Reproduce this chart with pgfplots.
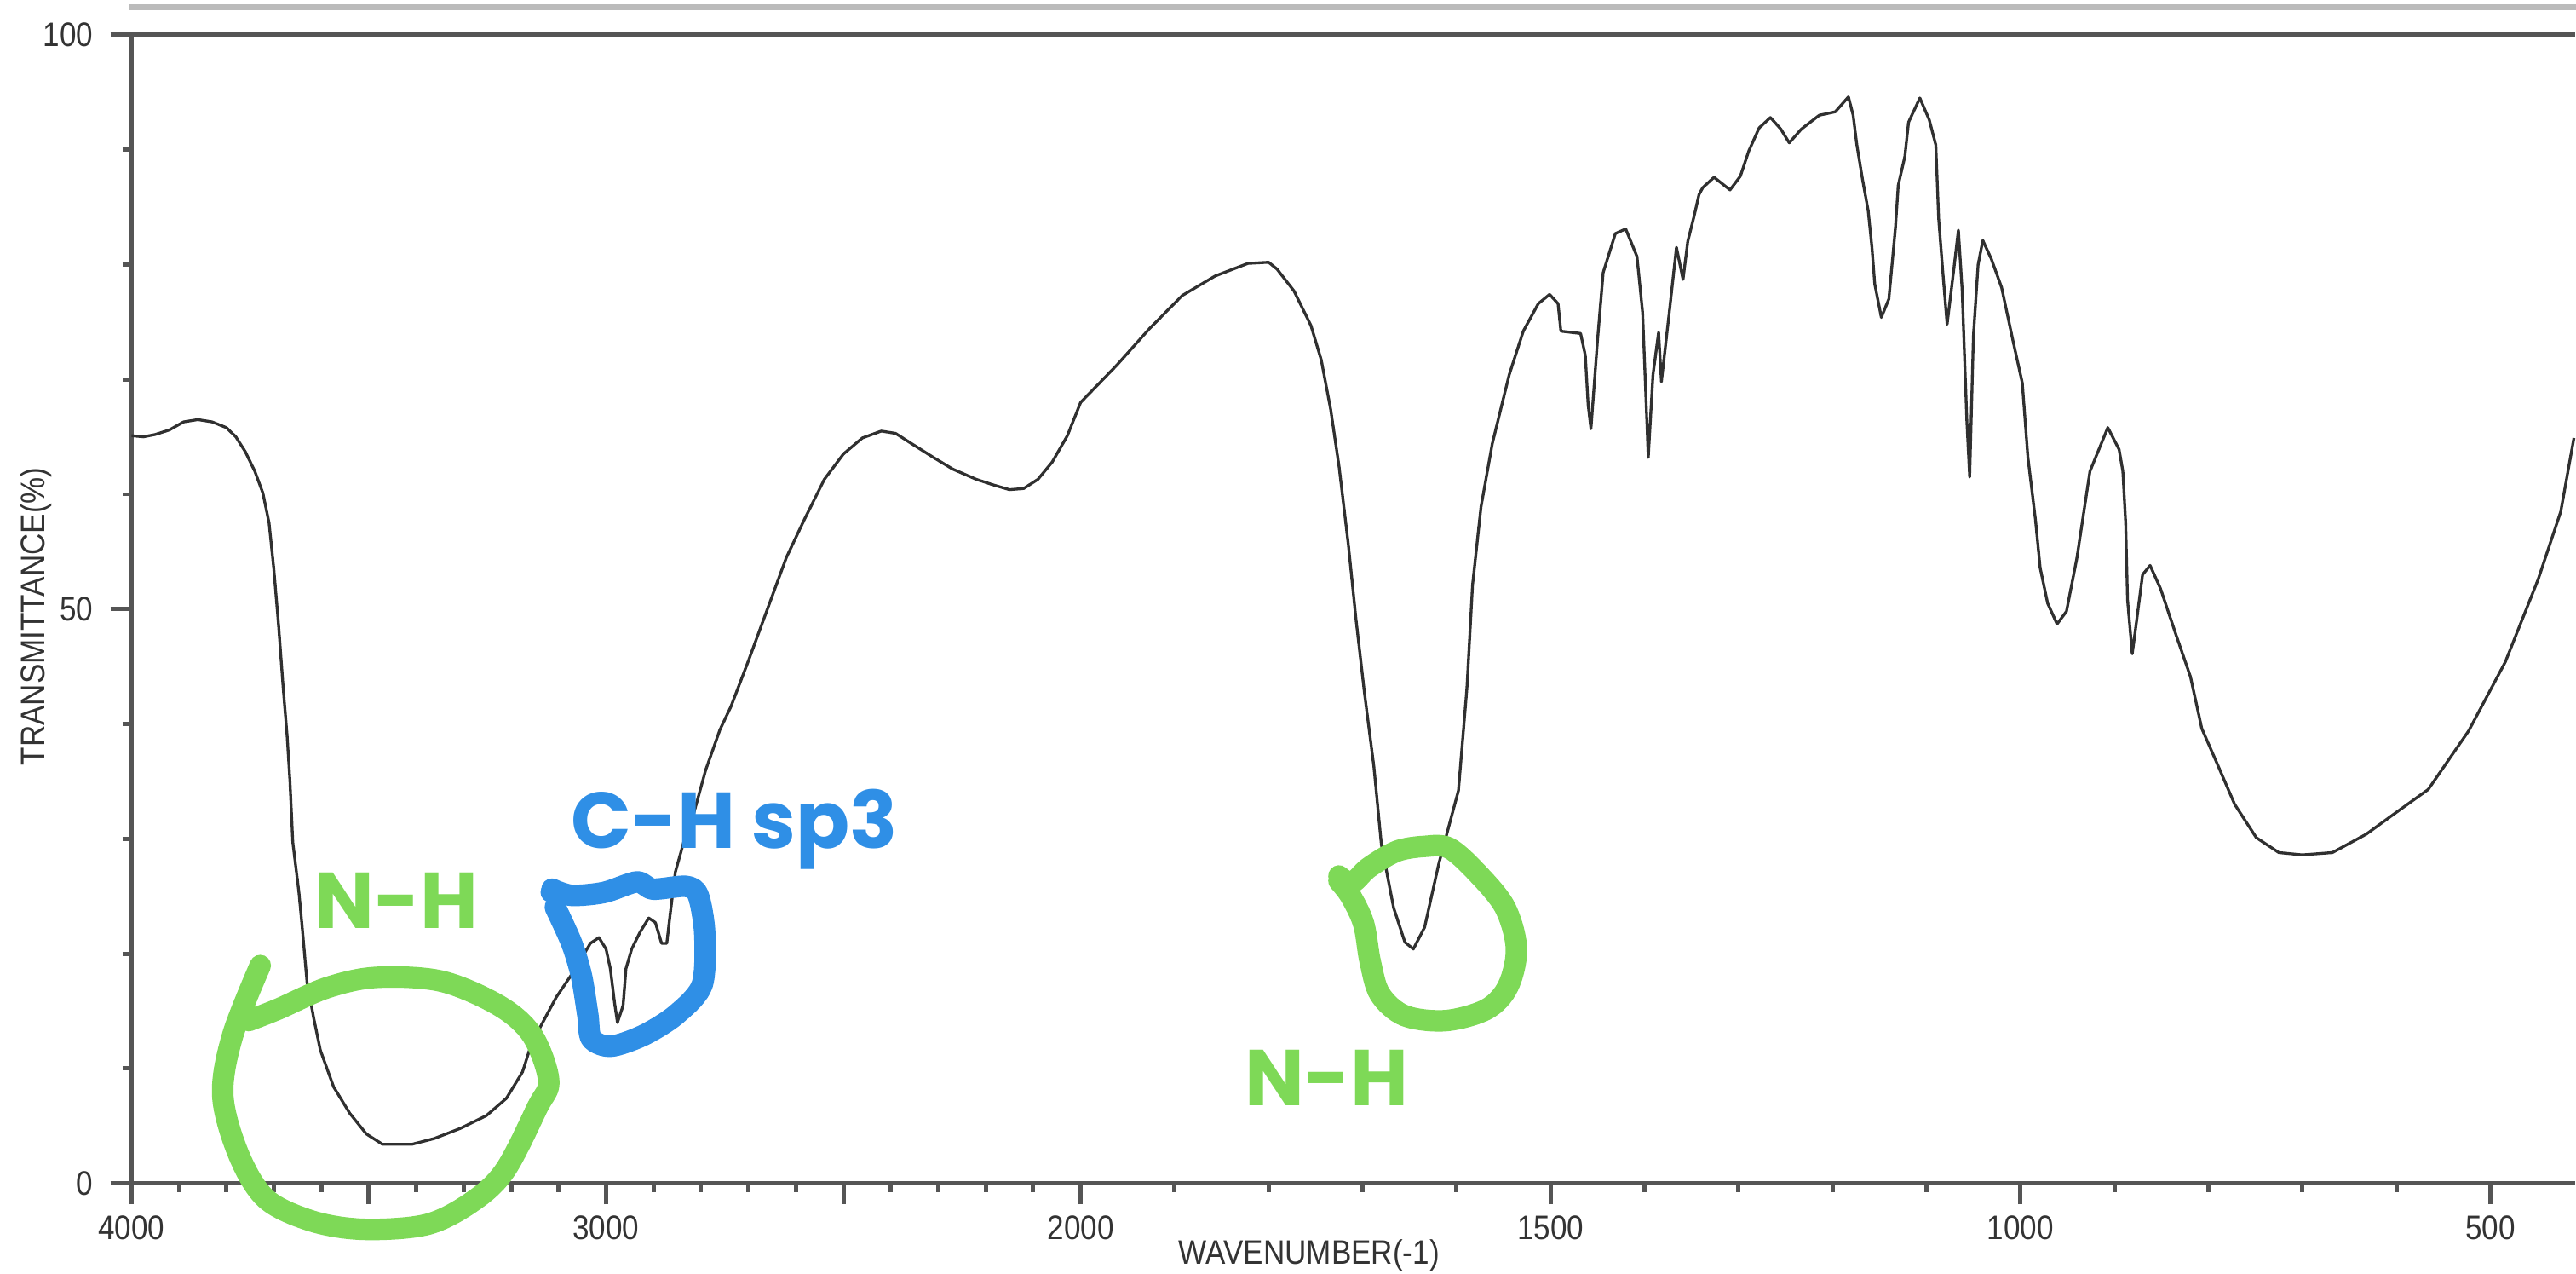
\documentclass[border=0pt]{standalone}
\usepackage{fontspec}
\setmainfont{Liberation Sans}
\newfontfamily\annfont{Poppins}
\usepackage{pgfplots}
\pgfplotsset{compat=1.18}
\usepackage{pgfplotstable}

\definecolor{axisgray}{HTML}{555555}
\definecolor{curvegray}{HTML}{303030}
\definecolor{labgray}{HTML}{333333}
\definecolor{topgray}{HTML}{BBBBBB}
\definecolor{nhgreen}{HTML}{7ED957}
\definecolor{chblue}{HTML}{2F8FE6}

% IR spectrum, wavenumber (cm-1) vs transmittance (%)
\pgfplotstableread{
wn T
4000 65.1
3975 65.0
3950 65.2
3920 65.6
3890 66.3
3860 66.5
3830 66.3
3800 65.8
3780 65.0
3760 63.7
3740 62.0
3723 60.1
3710 57.5
3700 53.5
3690 48.6
3680 43.0
3672 39.0
3666 35.0
3660 29.7
3647 25.3
3640 22.2
3630 17.5
3616 14.4
3602 11.6
3574 8.4
3540 6.1
3505 4.3
3471 3.4
3409 3.4
3362 3.9
3306 4.8
3252 5.9
3210 7.4
3176 9.7
3156 12.3
3140 13.5
3105 16.2
3069 18.4
3033 20.9
3015 21.4
3000 20.4
2991 18.7
2982 15.7
2976 14.0
2964 15.5
2958 18.7
2946 20.4
2928 21.9
2910 23.1
2896 22.7
2883 20.9
2872 20.9
2865 23.4
2854 27.1
2829 30.8
2818 31.8
2790 36.0
2760 39.5
2737 41.5
2700 45.5
2660 50.0
2620 54.5
2581 57.9
2540 61.3
2500 63.5
2460 64.9
2420 65.5
2390 65.3
2356 64.4
2310 63.2
2270 62.2
2220 61.3
2183 60.8
2150 60.4
2120 60.5
2090 61.3
2060 62.8
2028 65.1
2000 68.0
1962 71.2
1927 74.4
1892 77.3
1857 79.0
1822 80.1
1800 80.2
1791 79.6
1773 77.7
1755 74.7
1744 71.7
1734 67.4
1725 62.4
1715 55.5
1707 49.1
1698 42.7
1688 36.3
1680 29.5
1667 24.0
1655 21.0
1646 20.4
1634 22.3
1619 27.8
1598 34.2
1589 43.1
1583 52.1
1574 58.9
1562 64.4
1544 70.4
1529 74.2
1513 76.6
1501 77.4
1492 76.6
1489 74.2
1468 74.0
1463 72.1
1460 67.8
1457 65.7
1450 73.4
1444 79.3
1431 82.7
1420 83.1
1408 80.7
1402 75.8
1396 63.2
1391 70.4
1385 74.1
1382 69.8
1373 76.3
1366 81.5
1359 78.7
1354 82.0
1347 84.3
1342 86.1
1338 86.7
1326 87.6
1309 86.5
1298 87.7
1289 89.9
1278 91.9
1266 92.8
1255 91.8
1246 90.6
1233 91.8
1214 93.0
1197 93.3
1183 94.6
1178 93.0
1174 90.4
1168 87.4
1162 84.7
1158 81.5
1155 78.3
1148 75.4
1140 77.0
1133 83.2
1130 86.9
1123 89.4
1119 92.4
1107 94.5
1097 92.6
1090 90.4
1087 84.0
1083 79.8
1078 74.8
1071 79.5
1066 83.0
1062 77.8
1057 66.4
1054 61.5
1050 73.8
1045 80.0
1040 82.1
1031 80.5
1020 78.0
1008 73.4
998 69.7
992 63.2
984 57.8
979 53.6
971 50.5
961 48.7
951 49.8
940 54.4
926 62.0
907 65.8
895 63.9
891 62.0
888 57.5
886 50.8
881 46.1
876 49.2
870 53.0
862 53.8
851 51.8
835 47.9
819 44.1
807 39.6
792 36.8
772 33.0
749 30.1
725 28.8
700 28.6
668 28.8
632 30.4
600 32.3
566 34.3
523 39.4
484 45.4
449 52.6
425 58.5
411 64.9
}\spectrum

\begin{document}
\begin{tikzpicture}
\begin{axis}[
  name=ax, at={(0,0)}, anchor=south west,
  scale only axis, width=15.184cm, height=7.133cm,
  xmin=0, xmax=5149, ymin=0, ymax=100,
  axis x line=box, axis y line=left,
  axis line style={axisgray, line width=0.75pt},
  x axis line style={-}, y axis line style={-},
  every outer y axis line/.append style={-},
  every outer x axis line/.append style={-},
  xtick pos=bottom, ytick pos=left, tick align=outside,
  % below 2000 cm-1 the scale is doubled, as on the original chart
  xtick={0,500,1000,1500,2000,2990,3980,4970},
  xticklabels={4000,,3000,,2000,1500,1000,500},
  minor xtick={100,200,300,400,600,700,800,900,1100,1200,1300,1400,
    1600,1700,1800,1900,2198,2396,2594,2792,3188,3386,3584,3782,
    4178,4376,4574,4772},
  ytick={0,50,100}, yticklabels={0,50,100},
  minor ytick={10,20,30,40,60,70,80,90},
  major tick length=0.13cm, minor tick length=0.055cm,
  every tick/.style={axisgray, line width=0.75pt},
  tick label style={font=\fontsize{6}{6}\selectfont, text=labgray, xscale=0.88},
  xticklabel style={yshift=1.5pt},
  xlabel={WAVENUMBER(-1)},
  ylabel={TRANSMITTANCE(\%)},
  label style={font=\fontsize{6}{6}\selectfont, text=labgray, xscale=0.88},
  xlabel style={at={(axis description cs:0.4819,-0.063)}, anchor=center},
  ylabel style={at={(axis description cs:-0.039,0.4936)}, anchor=center},
]
\addplot[curvegray, line width=0.5pt, line join=round, mark=none]
  table[x expr={\thisrow{wn}>=2000 ? 4000-\thisrow{wn} : 2000+1.98*(2000-\thisrow{wn})}, y=T] {\spectrum};
\end{axis}

% annotations, in pixels of the reference picture (1568 x 775)
\begin{scope}[x=0.010204cm, y=-0.010204cm, shift={(-80,-720)}]
  \draw[topgray, line width=1pt] (79,4.5) -- (1568,4.5);

  \draw[nhgreen, line width=3.8pt, line cap=round, line join=round]
    plot[smooth, tension=0.55] coordinates {(158.4,587.5) (141.6,630) (135.6,666.6)
      (145.5,703) (162,729.5) (190,743) (221.5,748) (260,745) (287.7,731) (307.5,712)
      (327,674) (334,657.5) (324,630) (304,612) (268.6,597) (228.9,594.7)
      (199,601) (169.3,614) (151.4,621)};

  \draw[nhgreen, line width=3.8pt, line cap=round, line join=round]
    plot[smooth, tension=0.55] coordinates {(815,533) (823,537) (833,528) (850,518)
      (867,515) (882,516) (899,531) (916,552) (923,577) (918,600) (905,614)
      (880,621) (855,618) (840,605) (834,585) (830,562) (822,545) (815,536)};

  \draw[chblue, line width=3.8pt, line cap=round, line join=round]
    plot[smooth, tension=0.5] coordinates {(336,541) (348,544.8) (367.7,543)
      (387.6,536.6) (397.5,541) (417.4,539.3) (425,544.8) (429,568.4)
      (427.3,599.4) (411.4,617.5) (391.5,630) (371.8,636.6) (360,632)
      (357.8,617.5) (353.9,593.7) (348,574) (338,552)};
  \fill[chblue] (335,543) circle (6);

  \node[nhgreen, anchor=base west, inner sep=0pt,
    font=\annfont\bfseries\fontsize{14}{14}\selectfont] at (191,565) {N-H};
  \node[nhgreen, anchor=base west, inner sep=0pt,
    font=\annfont\bfseries\fontsize{14}{14}\selectfont] at (757,673) {N-H};
  \node[chblue, anchor=base west, inner sep=0pt,
    font=\annfont\bfseries\fontsize{14}{14}\selectfont] at (347,516) {C-H sp3};

  \pgfresetboundingbox
  \path[use as bounding box] (0,0) rectangle (1568,775);
\end{scope}
\end{tikzpicture}
\end{document}
